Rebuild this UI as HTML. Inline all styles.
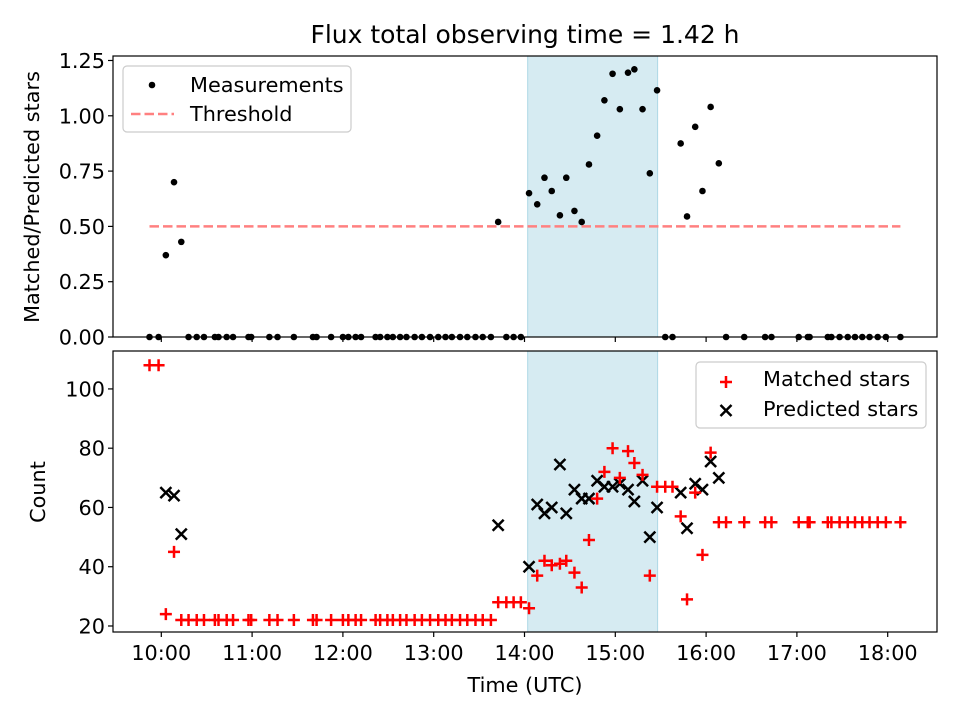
<!DOCTYPE html>
<html><head><meta charset="utf-8"><style>
html,body{margin:0;padding:0;background:#fff;}
svg text{font-family:"DejaVu Sans","Liberation Sans",sans-serif;fill:#000;}
</style></head><body>
<svg id="chart" width="960" height="720" viewBox="0 0 960 720" xmlns="http://www.w3.org/2000/svg">
<rect width="960" height="720" fill="#fff"/>
<text x="525" y="43" font-size="25" text-anchor="middle">Flux total observing time = 1.42 h</text>
<g id="topG"></g><g id="botG"></g>
</svg>
<script>
const times=[9.87,9.97,10.05,10.14,10.22,10.30,10.39,10.47,10.59,10.63,10.72,10.79,10.96,10.99,11.19,11.28,11.46,11.67,11.71,11.87,12.0,12.06,12.14,12.20,12.36,12.41,12.49,12.55,12.63,12.70,12.79,12.87,12.96,13.05,13.13,13.20,13.29,13.37,13.46,13.54,13.63,13.71,13.80,13.88,13.96,14.05,14.14,14.22,14.30,14.39,14.46,14.55,14.63,14.71,14.80,14.88,14.97,15.05,15.14,15.21,15.30,15.38,15.46,15.55,15.63,15.72,15.79,15.88,15.96,16.05,16.14,16.22,16.42,16.65,16.72,17.02,17.12,17.14,17.34,17.38,17.47,17.56,17.64,17.72,17.80,17.89,17.98,18.14];
const ratio=[0,0,0.37,0.70,0.43,0,0,0,0,0,0,0,0,0,0,0,0,0,0,0,0,0,0,0,0,0,0,0,0,0,0,0,0,0,0,0,0,0,0,0,0,0.52,0,0,0,0.65,0.60,0.72,0.66,0.55,0.72,0.57,0.52,0.78,0.91,1.07,1.19,1.03,1.195,1.21,1.03,0.74,1.115,0,0,0.875,0.545,0.95,0.66,1.04,0.785,0,0,0,0,0,0,0,0,0,0,0,0,0,0,0,0,0];
const matched=[108,108,24,45,22,22,22,22,22,22,22,22,22,22,22,22,22,22,22,22,22,22,22,22,22,22,22,22,22,22,22,22,22,22,22,22,22,22,22,22,22,28,28,28,28,26,37,42,40.5,41,42,38,33,49,63,72,80,70,79,75,71,37,67,67,67,57,29,65,44,78.5,55,55,55,55,55,55,55,55,55,55,55,55,55,55,55,55,55,55];
const predicted=[0,0,65,64,51,0,0,0,0,0,0,0,0,0,0,0,0,0,0,0,0,0,0,0,0,0,0,0,0,0,0,0,0,0,0,0,0,0,0,0,0,54,0,0,0,40,61,58,60,74.5,58,66,63,63,69,67,67,68,66,62,69,50,60,0,0,65,53,68,66,75.5,70,0,0,0,0,0,0,0,0,0,0,0,0,0,0,0,0,0];
const threshold=[0.5];
const spanRange=[14.035,15.466];
const xTicks=[10,11,12,13,14,15,16,17,18];
const xTickLabels=["10:00","11:00","12:00","13:00","14:00","15:00","16:00","17:00","18:00"];
const topTicks=[0,0.25,0.5,0.75,1.0,1.25];
const topTickLabels=["0.00","0.25","0.50","0.75","1.00","1.25"];
const botTicks=[20,40,60,80,100];

const NS="http://www.w3.org/2000/svg";
const L=113,R=937,xMin=9.468,xMax=18.543;
const T1=56,B1=337,y1Max=1.2703;
const T2=351,B2=632,y2Min=17.97,y2Max=112.8;
const FS=20.8;
const X=v=>L+(v-xMin)/(xMax-xMin)*(R-L);
const Y1=v=>B1-v/y1Max*(B1-T1);
const Y2=v=>B2-(v-y2Min)/(y2Max-y2Min)*(B2-T2);
function mk(tag,attrs,parent){const e=document.createElementNS(NS,tag);for(const k in attrs)e.setAttribute(k,attrs[k]);parent.appendChild(e);return e;}
const topG=document.getElementById('topG'),botG=document.getElementById('botG');

let s=mk('rect',{x:X(spanRange[0]),y:T1,width:X(spanRange[1])-X(spanRange[0]),height:B1-T1,fill:'#add8e6','fill-opacity':0.5,stroke:'#add8e6'},topG);


s=mk('rect',{x:X(spanRange[0]),y:T2,width:X(spanRange[1])-X(spanRange[0]),height:B2-T2,fill:'#add8e6','fill-opacity':0.5,stroke:'#add8e6'},botG);



let th=mk('line',{x1:X(times[0]),x2:X(times[times.length-1]),y1:Y1(threshold[0]),y2:Y1(threshold[0]),stroke:'#ff8080','stroke-width':2.5,'stroke-dasharray':'9.5,4'},topG);



const defs=mk('defs',{},document.getElementById('chart'));
const c1=mk('clipPath',{id:'c1'},defs);mk('rect',{x:L,y:T1-5,width:R-L,height:B1-T1+10},c1);
const c2=mk('clipPath',{id:'c2'},defs);mk('rect',{x:L,y:T2,width:R-L,height:B2-T2},c2);
const g1=mk('g',{'clip-path':'url(#c1)'},topG);
const g2=mk('g',{'clip-path':'url(#c2)'},botG);

times.forEach((t,i)=>{
  const d=mk('circle',{cx:X(t),cy:Y1(ratio[i]),r:3.3,fill:'#000'},g1);
  
  
});
times.forEach((t,i)=>{
  const x=X(t),y=Y2(predicted[i]);
  const p=mk('path',{d:`M${x-5.5},${y-5.5}L${x+5.5},${y+5.5}M${x-5.5},${y+5.5}L${x+5.5},${y-5.5}`,stroke:'#000','stroke-width':2.5,fill:'none'},g2);
  
  
});
times.forEach((t,i)=>{
  const x=X(t),y=Y2(matched[i]);
  const p=mk('path',{d:`M${x-6},${y}L${x+6},${y}M${x},${y-6}L${x},${y+6}`,stroke:'#ff0000','stroke-width':2.5,fill:'none'},g2);
  
  
});

[[T1,B1,topG],[T2,B2,botG]].forEach(([a,b,g])=>{
  const f=mk('rect',{x:L,y:a,width:R-L,height:b-a,fill:'none',stroke:'#000','stroke-width':1.2},g);
  
  
});
xTicks.forEach((v,i)=>{
  const x=X(v);
  mk('line',{x1:x,x2:x,y1:B1,y2:B1+5,stroke:'#000','stroke-width':1.2},topG);
  mk('line',{x1:x,x2:x,y1:B2,y2:B2+5,stroke:'#000','stroke-width':1.2},botG);
  const tx=mk('text',{x:x,y:B2+28,'font-size':FS,'text-anchor':'middle'},botG);
  tx.textContent=xTickLabels[i];
  
  
});
topTicks.forEach((v,i)=>{
  const y=Y1(v);
  mk('line',{x1:L-5,x2:L,y1:y,y2:y,stroke:'#000','stroke-width':1.2},topG);
  const tx=mk('text',{x:L-8,y:y+7.5,'font-size':FS,'text-anchor':'end'},topG);
  tx.textContent=topTickLabels[i];
  
  
});
botTicks.forEach(v=>{
  const y=Y2(v);
  mk('line',{x1:L-5,x2:L,y1:y,y2:y,stroke:'#000','stroke-width':1.2},botG);
  const tx=mk('text',{x:L-8,y:y+7.5,'font-size':FS,'text-anchor':'end'},botG);
  tx.textContent=String(v);
  
  
});
</script>
<svg style="position:absolute;left:0;top:0" width="960" height="720" xmlns="http://www.w3.org/2000/svg">
<text transform="translate(39,197) rotate(-90)" font-size="20.8" text-anchor="middle" style="font-family:'DejaVu Sans','Liberation Sans',sans-serif">Matched/Predicted stars</text>
<text transform="translate(45,492) rotate(-90)" font-size="20.8" text-anchor="middle" style="font-family:'DejaVu Sans','Liberation Sans',sans-serif">Count</text>
<text x="525" y="692" font-size="20.8" text-anchor="middle" style="font-family:'DejaVu Sans','Liberation Sans',sans-serif">Time (UTC)</text>
<g>
<rect x="123" y="66" width="228" height="66" rx="4" fill="#fff" fill-opacity="0.8" stroke="#ccc" stroke-width="1.2"/>
<circle cx="152" cy="85" r="3.3" fill="#000"/>
<text x="190" y="92" font-size="20.8" style="font-family:'DejaVu Sans','Liberation Sans',sans-serif">Measurements</text>
<line x1="131" x2="174" y1="114" y2="114" stroke="#ff8080" stroke-width="2.5" stroke-dasharray="9.5,4"/>
<text x="190" y="121" font-size="20.8" style="font-family:'DejaVu Sans','Liberation Sans',sans-serif">Threshold</text>
</g>
<g>
<rect x="696" y="362" width="230" height="66" rx="4" fill="#fff" fill-opacity="0.8" stroke="#ccc" stroke-width="1.2"/>
<path d="M720,382L732,382M726,376L726,388" stroke="#f00" stroke-width="2.5"/>
<text x="763" y="386" font-size="20.8" style="font-family:'DejaVu Sans','Liberation Sans',sans-serif">Matched stars</text>
<path d="M720.5,405L731.5,416M720.5,416L731.5,405" stroke="#000" stroke-width="2.5"/>
<text x="763" y="416" font-size="20.8" style="font-family:'DejaVu Sans','Liberation Sans',sans-serif">Predicted stars</text>
</g>
</svg>
</body></html>
